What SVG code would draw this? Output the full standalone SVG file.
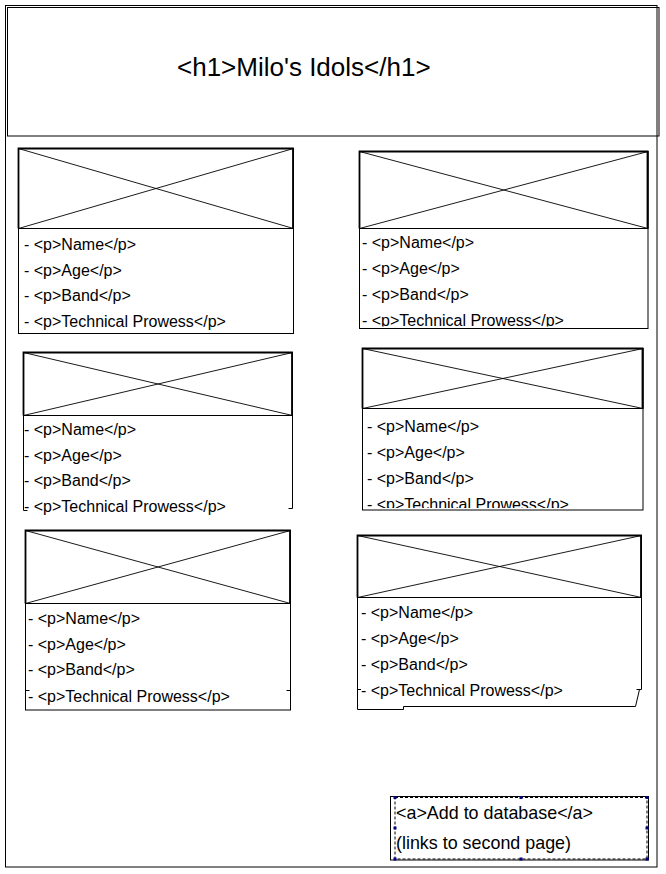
<svg xmlns="http://www.w3.org/2000/svg" width="666" height="874" viewBox="0 0 666 874">
<style>
.ln{fill:none;stroke:#000;stroke-width:1}
.img{fill:#fff;stroke:#000;stroke-width:1}
.tp{fill:none;stroke:#000;stroke-width:1.8}
.x{stroke:#000;stroke-width:0.9;fill:none}
.t{font-family:"Liberation Sans",Arial,sans-serif;font-size:16px;fill:#000}
.h{font-family:"Liberation Sans",Arial,sans-serif;font-size:26px;fill:#000}
.a{font-family:"Liberation Sans",Arial,sans-serif;font-size:17.9px;fill:#000}
.dash{fill:none;stroke:#000;stroke-width:1;stroke-dasharray:3 2}
.hd{fill:#000080}
</style>
<defs>
<clipPath id="c2"><rect x="360" y="151" width="288" height="175.5"/></clipPath>
<clipPath id="c4"><rect x="363" y="348" width="280" height="160"/></clipPath>
</defs>
<rect width="666" height="874" fill="#fff"/>
<g id="page">
<rect class="ln" x="5.5" y="5.5" width="651.5" height="861.5"/>
</g>
<g id="header">
<rect class="ln" x="7.5" y="7.5" width="651.5" height="128.5"/>
<text class="h" x="177" y="76">&lt;h1&gt;Milo's Idols&lt;/h1&gt;</text>
</g>
<g id="card1">
<rect class="ln" x="18.5" y="148.5" width="275" height="185"/>
<rect class="img" x="18.5" y="148.5" width="275" height="80"/>
<path class="tp" d="M18.5 228.5V148.5H293V228.5"/>
<path class="x" d="M18.5 148.5L293.5 228.5M293.5 148.5L18.5 228.5"/>
<text class="t" x="24" y="250">- &lt;p&gt;Name&lt;/p&gt;</text>
<text class="t" x="24" y="276">- &lt;p&gt;Age&lt;/p&gt;</text>
<text class="t" x="24" y="301">- &lt;p&gt;Band&lt;/p&gt;</text>
<text class="t" x="24" y="327">- &lt;p&gt;Technical Prowess&lt;/p&gt;</text>
</g>
<g id="card2">
<rect class="ln" x="359.5" y="151.5" width="288.5" height="177"/>
<rect class="img" x="359.5" y="151.5" width="288.5" height="77"/>
<path class="tp" d="M359.5 228.5V151.5H647.5V228.5"/>
<path class="x" d="M359.5 151.5L648 228.5M648 151.5L359.5 228.5"/>
<g clip-path="url(#c2)">
<text class="t" x="362" y="248">- &lt;p&gt;Name&lt;/p&gt;</text>
<text class="t" x="362" y="274">- &lt;p&gt;Age&lt;/p&gt;</text>
<text class="t" x="362" y="300">- &lt;p&gt;Band&lt;/p&gt;</text>
<text class="t" x="362" y="326">- &lt;p&gt;Technical Prowess&lt;/p&gt;</text>
</g>
</g>
<g id="card3">
<path class="ln" d="M23.5 415.5V510.5H27.5M292.5 415.5V508.5H288.5"/>
<rect class="img" x="23.5" y="352.5" width="269" height="63"/>
<path class="tp" d="M23.5 415.5V352.5H292V415.5"/>
<path class="x" d="M23.5 352.5L292.5 415.5M292.5 352.5L23.5 415.5"/>
<text class="t" x="24" y="435">- &lt;p&gt;Name&lt;/p&gt;</text>
<text class="t" x="24" y="461">- &lt;p&gt;Age&lt;/p&gt;</text>
<text class="t" x="24" y="486">- &lt;p&gt;Band&lt;/p&gt;</text>
<text class="t" x="24" y="512">- &lt;p&gt;Technical Prowess&lt;/p&gt;</text>
</g>
<g id="card4">
<rect class="ln" x="362.5" y="348.5" width="280.5" height="161.5"/>
<rect class="img" x="362.5" y="348.5" width="280.5" height="60"/>
<path class="tp" d="M362.5 408.5V348.5H642.5V408.5"/>
<path class="x" d="M362.5 348.5L643 408.5M643 348.5L362.5 408.5"/>
<g clip-path="url(#c4)">
<text class="t" x="367" y="432">- &lt;p&gt;Name&lt;/p&gt;</text>
<text class="t" x="367" y="458">- &lt;p&gt;Age&lt;/p&gt;</text>
<text class="t" x="367" y="484">- &lt;p&gt;Band&lt;/p&gt;</text>
<text class="t" x="367" y="510">- &lt;p&gt;Technical Prowess&lt;/p&gt;</text>
</g>
</g>
<g id="card5">
<rect class="ln" x="25.5" y="530.5" width="265" height="179.5"/>
<rect class="img" x="25.5" y="530.5" width="265" height="73"/>
<path class="tp" d="M25.5 603.5V530.5H290V603.5"/>
<path class="x" d="M25.5 530.5L290.5 603.5M290.5 530.5L25.5 603.5"/>
<path class="ln" d="M25.5 690.5H29.5M286.5 690.5H290.5"/>
<text class="t" x="28" y="624">- &lt;p&gt;Name&lt;/p&gt;</text>
<text class="t" x="28" y="650">- &lt;p&gt;Age&lt;/p&gt;</text>
<text class="t" x="28" y="675">- &lt;p&gt;Band&lt;/p&gt;</text>
<text class="t" x="28" y="702">- &lt;p&gt;Technical Prowess&lt;/p&gt;</text>
</g>
<g id="card6">
<path class="ln" d="M641.5 597V689.5H636.5M639.5 689.5L635.5 706.5H403.5V709.5H357.5V597M357.5 689.5H361"/>
<rect class="img" x="357.5" y="535.5" width="284" height="62"/>
<path class="tp" d="M357.5 597.5V535.5H641V597.5"/>
<path class="x" d="M357.5 535.5L641.5 597.5M641.5 535.5L357.5 597.5"/>
<text class="t" x="361" y="618">- &lt;p&gt;Name&lt;/p&gt;</text>
<text class="t" x="361" y="644">- &lt;p&gt;Age&lt;/p&gt;</text>
<text class="t" x="361" y="670">- &lt;p&gt;Band&lt;/p&gt;</text>
<text class="t" x="361" y="696">- &lt;p&gt;Technical Prowess&lt;/p&gt;</text>
</g>
<g id="link">
<rect class="ln" x="390.5" y="796.5" width="258" height="63.5"/>
<rect class="dash" x="395" y="797.5" width="252" height="61.5"/>
<rect class="hd" x="393.5" y="796" width="3" height="3"/>
<rect class="hd" x="519.5" y="796" width="3" height="3"/>
<rect class="hd" x="645.5" y="796" width="3" height="3"/>
<rect class="hd" x="393.5" y="826.5" width="3" height="3"/>
<rect class="hd" x="645.5" y="826.5" width="3" height="3"/>
<rect class="hd" x="393.5" y="857.5" width="3" height="3"/>
<rect class="hd" x="519.5" y="857.5" width="3" height="3"/>
<rect class="hd" x="645.5" y="857.5" width="3" height="3"/>
<text class="a" x="396" y="819">&lt;a&gt;Add to database&lt;/a&gt;</text>
<text class="a" x="396" y="849">(links to second page)</text>
</g>
<g id="connectors"></g>
</svg>
